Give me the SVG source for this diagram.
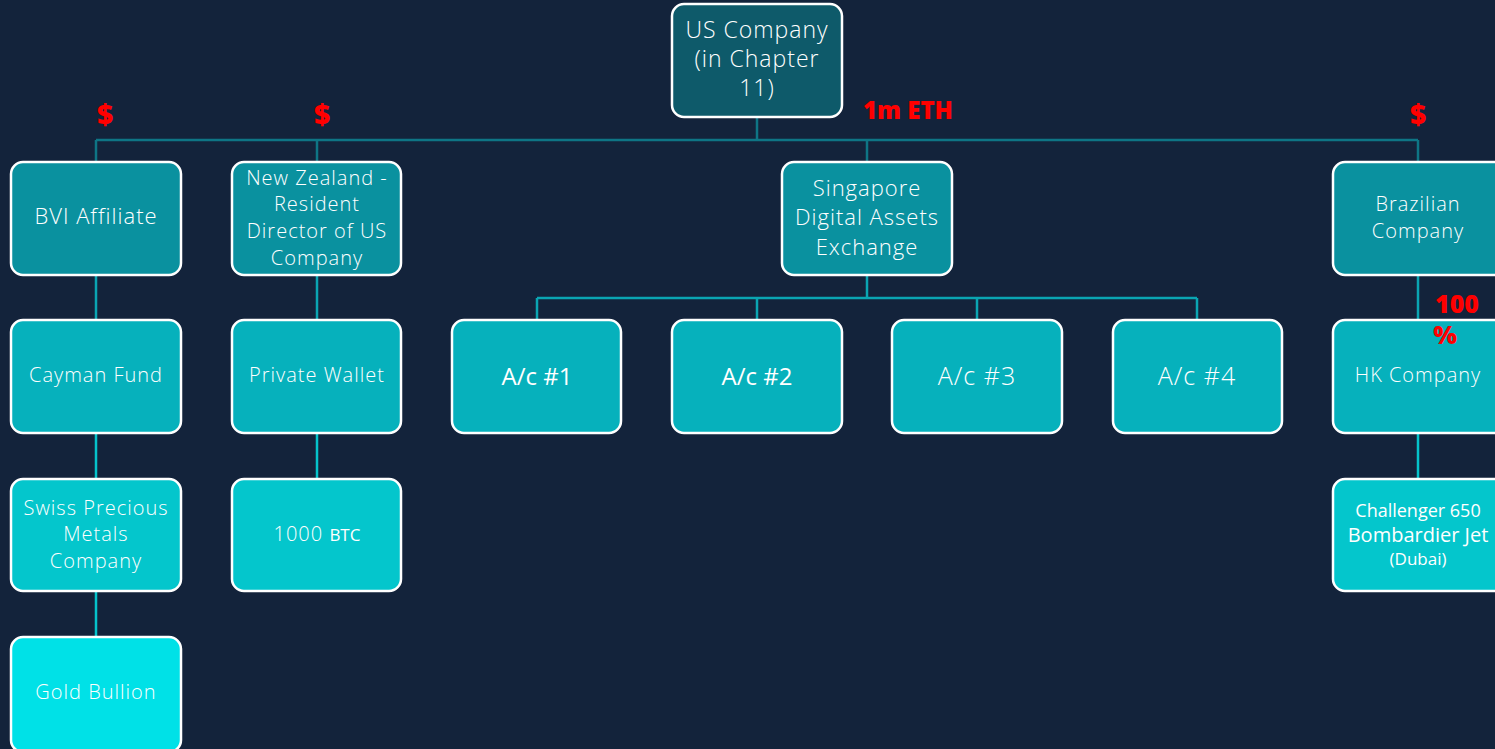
<svg xmlns="http://www.w3.org/2000/svg" width="1495" height="749" viewBox="0 0 1495 749">
<style>
.n{stroke:#ffffff;stroke-width:2.5}
.l0{fill:#0e5a6a}.l1{fill:#0a919f}.l2{fill:#06b1bc}.l3{fill:#04c6cc}.l4{fill:#00e1e7}
.t{font-family:"Open Sans",Lato,sans-serif;font-weight:300;fill:#ffffff;text-anchor:middle;letter-spacing:1px}
.c{font-family:"Open Sans","Liberation Sans",sans-serif;fill:#ffffff;text-anchor:middle}
.r{font-family:"Open Sans","Liberation Sans",sans-serif;font-weight:800;fill:#ff0000;text-anchor:middle}
.k1{stroke:#0e7585;stroke-width:2.5;fill:none}
.k2{stroke:#0aa5b2;stroke-width:2.5;fill:none}
.k3{stroke:#05c3cb;stroke-width:2.5;fill:none}
</style>
<rect width="1495" height="749" fill="#13233b"/>
<g id="connectors">
<path class="k1" d="M757 117V140M96 140H1418M96 140V162M317 140V162M867 140V162M1418 140V162"/>
<path class="k2" d="M867 275V298M537 298H1197M537 298V320M757 298V320M977 298V320M1197 298V320M96 275V320M317 275V320M1418 275V320"/>
<path class="k3" d="M96 433V479M317 433V479M1418 433V479M96 591V637"/>
</g>
<g id="us-company"><rect class="n l0" x="672" y="4" width="170" height="113" rx="12"/>
<text class="t" font-size="23"><tspan x="757" y="38">US Company</tspan><tspan x="757" y="67">(in Chapter</tspan><tspan x="757" y="96">11)</tspan></text></g>
<g id="bvi"><rect class="n l1" x="11" y="162" width="170" height="113" rx="12"/>
<text class="t" font-size="22" x="96" y="224">BVI Affiliate</text></g>
<g id="nz"><rect class="n l1" x="232" y="162" width="169" height="113" rx="12"/>
<text class="t" font-size="20"><tspan x="317" y="185">New Zealand -</tspan><tspan x="317" y="211">Resident</tspan><tspan x="317" y="238">Director of US</tspan><tspan x="317" y="265">Company</tspan></text></g>
<g id="singapore"><rect class="n l1" x="782" y="162" width="170" height="113" rx="12"/>
<text class="t" font-size="22"><tspan x="867" y="196">Singapore</tspan><tspan x="867" y="225">Digital Assets</tspan><tspan x="867" y="255">Exchange</tspan></text></g>
<g id="brazilian"><rect class="n l1" x="1333" y="162" width="175" height="113" rx="12"/>
<text class="t" font-size="20"><tspan x="1418" y="211">Brazilian</tspan><tspan x="1418" y="238">Company</tspan></text></g>
<g id="cayman"><rect class="n l2" x="11" y="320" width="170" height="113" rx="12"/>
<text class="t" font-size="20" x="96" y="382">Cayman Fund</text></g>
<g id="wallet"><rect class="n l2" x="232" y="320" width="169" height="113" rx="12"/>
<text class="t" font-size="20" x="317" y="382">Private Wallet</text></g>
<g id="ac1"><rect class="n l2" x="452" y="320" width="169" height="113" rx="12"/>
<text class="c" font-size="24" x="537" y="385">A/c #1</text></g>
<g id="ac2"><rect class="n l2" x="672" y="320" width="170" height="113" rx="12"/>
<text class="c" font-size="24" x="757" y="385">A/c #2</text></g>
<g id="ac3"><rect class="n l2" x="892" y="320" width="170" height="113" rx="12"/>
<text class="t" font-size="25" x="977" y="385">A/c #3</text></g>
<g id="ac4"><rect class="n l2" x="1113" y="320" width="169" height="113" rx="12"/>
<text class="t" font-size="25" x="1197" y="385">A/c #4</text></g>
<g id="hk"><rect class="n l2" x="1333" y="320" width="175" height="113" rx="12"/>
<text class="t" font-size="20" x="1418" y="382">HK Company</text></g>
<g id="swiss"><rect class="n l3" x="11" y="479" width="170" height="112" rx="12"/>
<text class="t" font-size="20"><tspan x="96" y="515">Swiss Precious</tspan><tspan x="96" y="541">Metals</tspan><tspan x="96" y="568">Company</tspan></text></g>
<g id="btc"><rect class="n l3" x="232" y="479" width="169" height="112" rx="12"/>
<text class="t" font-size="20" x="317" y="541">1000 <tspan class="c" font-size="17" font-weight="400" letter-spacing="0">BTC</tspan></text></g>
<g id="jet"><rect class="n l3" x="1333" y="479" width="175" height="112" rx="12"/>
<text class="c" font-size="18"><tspan x="1418" y="517">Challenger 650</tspan><tspan x="1418" y="542" font-size="20">Bombardier Jet</tspan><tspan x="1418" y="565" font-size="17">(Dubai)</tspan></text></g>
<g id="gold"><rect class="n l4" x="11" y="637" width="170" height="115" rx="12"/>
<text class="t" font-size="20" x="96" y="699">Gold Bullion</text></g>
<g id="labels">
<text class="r" font-size="28" x="105" y="125">$</text>
<text class="r" font-size="28" x="322" y="125">$</text>
<text class="r" font-size="28" x="1418" y="125">$</text>
<text class="r" font-size="24" x="908" y="119">1m ETH</text>
<text class="r" font-size="25" x="1457" y="313">100</text>
<text class="r" font-size="25" x="1445" y="344">%</text>
</g>
</svg>
